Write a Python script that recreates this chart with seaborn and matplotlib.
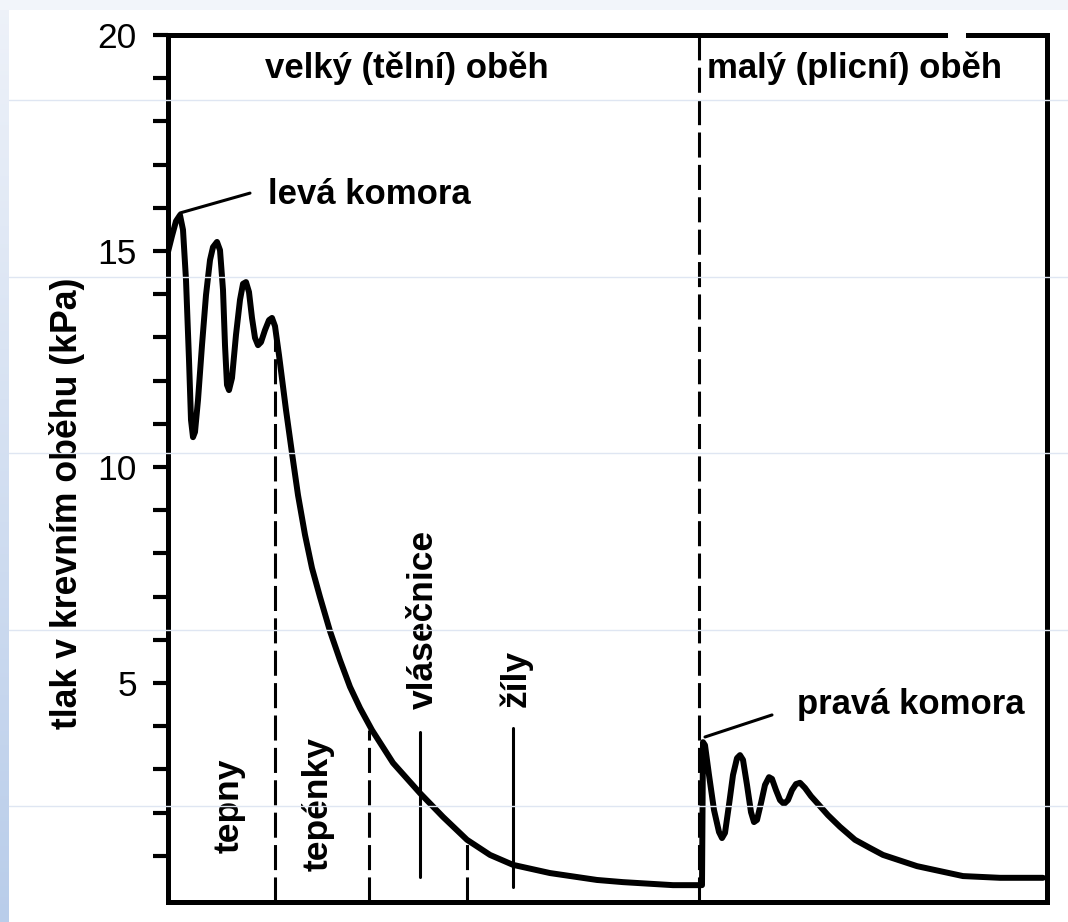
import numpy as np
import matplotlib
matplotlib.use("Agg")
import matplotlib.pyplot as plt
import matplotlib.lines as mlines
import seaborn as sns
import pandas as pd

# Blood pressure along the circulation (position in arbitrary units, pressure in kPa)
position = [0, 4, 8, 12, 15, 18, 21, 23, 25, 27, 30, 34, 38, 42, 45, 49, 52, 55, 57,
            59, 61, 64, 68, 72, 75, 78, 81, 84, 87, 90, 93, 97, 101, 104, 107, 111,
            118, 124, 130, 137, 144, 152, 162, 172, 182, 192, 204, 225, 252, 275, 299,
            322, 345, 382, 429, 455, 505, 532,
            534, 535, 537, 541, 546, 551, 554, 557, 561, 565, 569, 572, 575, 579, 583,
            586, 589, 593, 597, 601, 604, 608, 612, 616, 620, 624, 628, 632, 637, 643,
            650, 660, 672, 687, 702, 715, 749, 795, 832, 875]
pressure = [14.98, 15.35, 15.69, 15.83, 15.49, 14.33, 12.48, 11.09, 10.69, 10.81, 11.55,
            12.82, 13.98, 14.79, 15.09, 15.21, 15.02, 14.10, 12.82, 11.90, 11.78, 12.06,
            13.06, 13.87, 14.24, 14.28, 14.05, 13.45, 12.99, 12.82, 12.89, 13.17, 13.40,
            13.45, 13.26, 12.59, 11.32, 10.32, 9.35, 8.43, 7.66, 6.99, 6.20, 5.53, 4.91,
            4.42, 3.91, 3.15, 2.45, 1.90, 1.37, 1.02, 0.79, 0.60, 0.44, 0.39, 0.32, 0.32,
            0.32, 3.63, 3.56, 2.87, 2.06, 1.55, 1.41, 1.53, 2.18, 2.87, 3.26, 3.33, 3.22,
            2.64, 2.01, 1.78, 1.83, 2.22, 2.64, 2.82, 2.78, 2.52, 2.29, 2.20, 2.29, 2.52,
            2.66, 2.69, 2.57, 2.38, 2.20, 1.94, 1.67, 1.37, 1.18, 1.02, 0.76, 0.53, 0.49,
            0.49]

# Segment boundaries (dashed) and markers (solid)
boundary_x = [107, 201, 299, 531]
boundary_top = [13.3, 3.91, 1.37, 20.0]
marker_x = [252, 345]
marker_bottom = [0.51, 0.28]
marker_top = [3.87, 3.96]

# Vessel labels (rotated)
vessel_names = ["tepny", "tepénky", "vlásečnice", "žíly"]
vessel_x = [61, 150, 255, 348]
vessel_y = [2.15, 2.2, 6.46, 5.1]

circuit_names = ["velký (tělní) oběh", "malý (plicní) oběh"]
circuit_x = [97, 539]
ventricle_names = ["levá komora", "pravá komora"]
ventricle_xy = [(100, 16.3), (629, 4.5)]
leader_lines = [((12, 82), (15.88, 16.34)), ((537, 604), (3.75, 4.26))]

ylabel = "tlak v krevním oběhu (kPa)"
major_ticks = [5, 10, 15, 20]
minor_ticks = list(range(1, 21))

sns.set_theme(style="white")
plt.rcParams["font.family"] = ["Liberation Sans", "DejaVu Sans"]
plt.rcParams["text.color"] = "black"
plt.rcParams["axes.labelcolor"] = "black"
plt.rcParams["ytick.color"] = "black"

W, H = 1068, 922
fig = plt.figure(figsize=(W / 100, H / 100), dpi=100)
fig.patch.set_facecolor("white")

# slide background: pale top band and blue gradient along the left edge
bg = fig.add_axes([0, 0, 1, 1], zorder=-10)
bg.set_xlim(0, W)
bg.set_ylim(H, 0)
bg.axis("off")
bg.add_patch(plt.Rectangle((0, 0), W, 10, color="#f2f5fa", lw=0))
grad = np.linspace(0, 1, 256)[:, None]
cmap = matplotlib.colors.LinearSegmentedColormap.from_list("edge", ["#eef2f9", "#b9cdea"])
bg.imshow(grad, extent=(0, 9, H, 0), cmap=cmap, aspect="auto")

ax = fig.add_axes([168 / W, 1 - 902 / H, (1047 - 168) / W, (902 - 35) / H])
df = pd.DataFrame({"position": position, "pressure": pressure})
sns.lineplot(data=df, x="position", y="pressure", ax=ax, color="black", lw=4.3,
             estimator=None, sort=False, solid_joinstyle="round", zorder=4)

ax.set_xlim(0, 879)
ax.set_ylim(-0.07, 20)

for bx, bt in zip(boundary_x, boundary_top):
    ax.plot([bx, bx], [-0.07, bt], color="black", lw=2.2, ls=(0, (8.2, 2.4)), zorder=3)
for mx, mb, mt in zip(marker_x, marker_bottom, marker_top):
    ax.plot([mx, mx], [mb, mt], color="black", lw=2.2, zorder=3)
for (lx, ly) in leader_lines:
    ax.plot(lx, ly, color="black", lw=2.2, zorder=3)

for name, vx, vy in zip(vessel_names, vessel_x, vessel_y):
    ax.text(vx, vy, name, rotation=90, ha="center", va="center", fontsize=25.5,
            fontweight="bold")
for name, cx in zip(circuit_names, circuit_x):
    ax.text(cx, 19.22, name, ha="left", va="center", fontsize=25, fontweight="bold")
for name, (tx, ty) in zip(ventricle_names, ventricle_xy):
    ax.text(tx, ty, name, ha="left", va="center", fontsize=25, fontweight="bold")

ax.set_xlabel("")
ax.set_ylabel(ylabel, fontsize=25.7, fontweight="bold")
ax.yaxis.set_label_coords(-0.094, 0.46)
ax.set_xticks([])
ax.set_yticks(major_ticks)
ax.set_yticklabels([str(t) for t in major_ticks], fontsize=25.5)
ax.set_yticks(minor_ticks, minor=True)
ax.tick_params(axis="y", which="both", left=True, length=10.5, width=3, color="black",
               pad=12)
for s in ax.spines.values():
    s.set_visible(True)
    s.set_color("black")
    s.set_linewidth(3.6)

# small gap in the top frame
ax.plot([780, 798], [20, 20], color="white", lw=6, clip_on=False, zorder=6,
        solid_capstyle="butt")

# faint horizontal rules across the slide
for yy in [100, 277, 453, 630, 806]:
    fig.add_artist(mlines.Line2D([9 / W, 1], [1 - yy / H, 1 - yy / H], color="#dfe6f2",
                                 lw=1, zorder=20))

fig.savefig("out.png", dpi=100)
